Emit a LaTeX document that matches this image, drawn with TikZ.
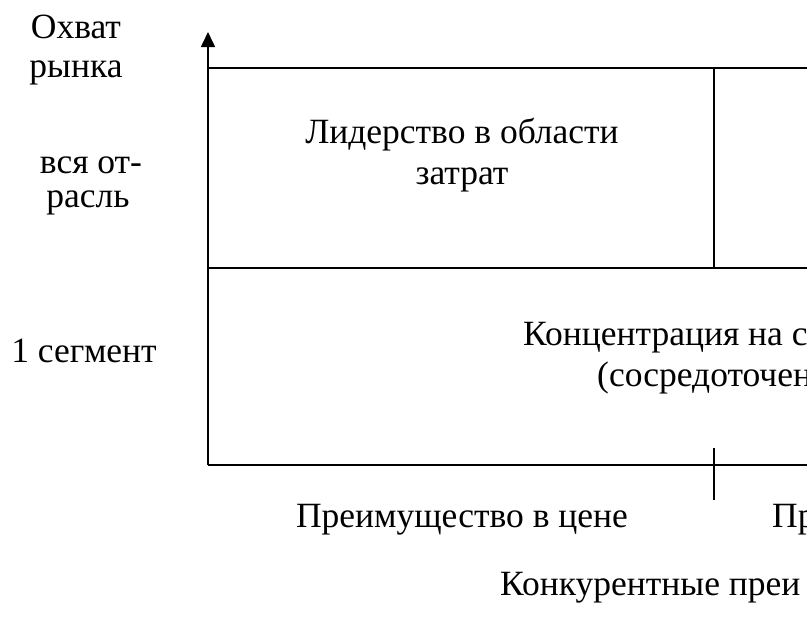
\documentclass[tikz,border=0pt]{standalone}
\usepackage{fontspec}
\setmainfont{Liberation Serif}
\usetikzlibrary{positioning,arrows.meta}

\begin{document}
\begin{tikzpicture}[x=1pt,y=-1pt,
    every node/.style={font=\rmfamily\fontsize{35.5}{40}\selectfont,inner sep=0pt},
    gridline/.style={line width=1.6pt,black},
    label/.style={anchor=base},
    cutlabel/.style={anchor=base west}]
  \useasboundingbox (0,0) rectangle (807,625);
  \clip (0,0) rectangle (807,625);

  % corners of the matrix
  \coordinate (O) at (208,465);
  \coordinate (axtop) at (208,32);
  \coordinate (tl) at (208,68);
  \coordinate (ml) at (208,268);
  \coordinate (tr) at (830,68);
  \coordinate (mr) at (830,268);
  \coordinate (br) at (830,465);
  \coordinate (divtop) at (714,68);
  \coordinate (divbot) at (714,268);
  \coordinate (ticktop) at (714,448);
  \coordinate (tickbot) at (714,500);

  \draw[gridline,-{Triangle[length=15pt,width=14pt]}] (O) -- (axtop);
  \draw[gridline] (tl) -- (tr);
  \draw[gridline] (ml) -- (mr);
  \draw[gridline] (O) -- (br);
  \draw[gridline] (divtop) -- (divbot);
  \draw[line width=1.2pt] (ticktop) -- (tickbot);

  % axis labels
  \node[label] (ylab1) at (76,38) {Охват};
  \node[label] (ylab2) at (76,77) {рынка};
  \node[label] (all1) at (91,173) {вся от-};
  \node[label] (all2) at (88,207) {расль};
  \node[label] (seg) at (84,362) {1 сегмент};

  % cells
  \node[label] (lead1) at (462,143) {Лидерство в области};
  \node[label] (lead2) at (462,184) {затрат};
  \node[cutlabel] (conc1) at (523,345) {Концентрация на с};
  \node[cutlabel] (conc2) at (597,386) {(сосредоточен};

  % bottom labels
  \node[label] (price) at (462,527) {Преимущество в цене};
  \node[cutlabel] (diff) at (772,527) {Пр};
  \node[cutlabel] (xlab) at (500,595) {Конкурентные преи};
\end{tikzpicture}
\end{document}
